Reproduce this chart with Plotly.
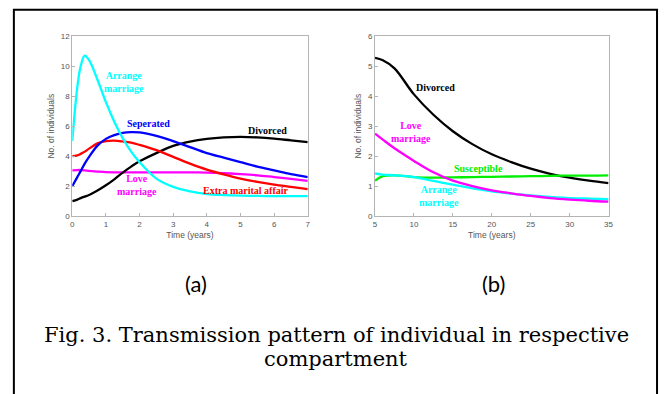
import plotly.graph_objects as go

# ---------- data: panel (a) ----------
t_a = [0, 0.15, 0.25, 0.37, 0.5, 0.75, 1, 1.25, 1.5, 1.75, 2, 2.5, 3, 3.5, 4, 4.5, 5, 5.5, 6, 6.5, 7]
arrange_a = [5.0, 8.6, 10.0, 10.7, 10.4, 9.1, 7.6, 6.3, 5.2, 4.3, 3.6, 2.5, 1.95, 1.65, 1.47, 1.4, 1.36, 1.34, 1.33, 1.33, 1.33]
seperated_a = [2.0, 2.6, 3.0, 3.5, 3.95, 4.7, 5.15, 5.4, 5.55, 5.6, 5.58, 5.35, 5.0, 4.6, 4.2, 3.9, 3.6, 3.3, 3.05, 2.8, 2.6]
extra_a = [4.0, 4.05, 4.15, 4.3, 4.5, 4.85, 5.0, 5.03, 4.98, 4.9, 4.75, 4.4, 3.95, 3.5, 3.1, 2.78, 2.5, 2.28, 2.1, 1.95, 1.8]
love_a = [3.05, 3.07, 3.07, 3.05, 3.02, 2.97, 2.93, 2.92, 2.92, 2.92, 2.92, 2.92, 2.92, 2.92, 2.9, 2.86, 2.8, 2.72, 2.6, 2.48, 2.35]
divorced_a = [1.0, 1.1, 1.2, 1.3, 1.4, 1.7, 2.05, 2.45, 2.9, 3.3, 3.65, 4.2, 4.68, 4.97, 5.15, 5.25, 5.28, 5.25, 5.17, 5.05, 4.93]

# ---------- data: panel (b) ----------
t_b = [5, 6, 7.5, 10, 12.5, 15, 17.5, 20, 22.5, 25, 27.5, 30, 32.5, 35]
divorced_b = [5.28, 5.2, 4.93, 4.06, 3.38, 2.83, 2.4, 2.06, 1.8, 1.58, 1.41, 1.28, 1.18, 1.1]
love_b = [2.75, 2.55, 2.26, 1.84, 1.46, 1.18, 1.0, 0.86, 0.76, 0.67, 0.6, 0.55, 0.51, 0.48]
arrange_b = [1.42, 1.38, 1.36, 1.3, 1.17, 1.05, 0.92, 0.82, 0.75, 0.69, 0.64, 0.6, 0.58, 0.56]
suscept_b = [1.18, 1.33, 1.36, 1.3, 1.28, 1.29, 1.3, 1.31, 1.32, 1.33, 1.34, 1.35, 1.35, 1.36]

xticks_a = [0, 1, 2, 3, 4, 5, 6, 7]
yticks_a = [0, 2, 4, 6, 8, 10, 12]
xticks_b = [5, 10, 15, 20, 25, 30, 35]
yticks_b = [0, 1, 2, 3, 4, 5, 6]

CYAN, BLUE, RED, MAG, BLACK, GREEN = "#00ffff", "#0000ff", "#ff0000", "#ff00ff", "#000000", "#00ee00"

fig = go.Figure()

def add(x, y, color, xa, ya):
    fig.add_trace(go.Scatter(x=x, y=y, mode="lines", line=dict(color=color, width=2.3, shape="spline", smoothing=1.0),
                             xaxis=xa, yaxis=ya, showlegend=False, hoverinfo="skip"))

add(t_a, love_a, MAG, "x", "y")
add(t_a, divorced_a, BLACK, "x", "y")
add(t_a, extra_a, RED, "x", "y")
add(t_a, seperated_a, BLUE, "x", "y")
add(t_a, arrange_a, CYAN, "x", "y")

add(t_b, divorced_b, BLACK, "x2", "y2")
add(t_b, suscept_b, GREEN, "x2", "y2")
add(t_b, arrange_b, CYAN, "x2", "y2")
add(t_b, love_b, MAG, "x2", "y2")

W, H = 665, 394
def px(x): return x / W
def py(y): return 1 - y / H

axis_common = dict(showline=True, mirror=True, linecolor="#b4b4b4", linewidth=1, ticks="inside", ticklen=3,
                   tickcolor="#b4b4b4", showgrid=False, zeroline=False,
                   tickfont=dict(family="Liberation Sans", size=8, color="#555555"))
title_font = dict(family="Liberation Sans", size=8.5, color="#555555")

fig.update_layout(
    width=W, height=H, margin=dict(l=0, r=0, t=0, b=0),
    paper_bgcolor="white", plot_bgcolor="white",
    xaxis=dict(domain=[px(71), px(309)], range=[0, 7], tickvals=xticks_a, anchor="y",
               title=dict(text="Time (years)", font=title_font, standoff=4), **axis_common),
    yaxis=dict(domain=[py(217), py(33)], range=[0, 12], tickvals=yticks_a, anchor="x",
               title=dict(text="No. of individuals", font=title_font, standoff=4), **axis_common),
    xaxis2=dict(domain=[px(377), px(613)], range=[5, 35], tickvals=xticks_b, anchor="y2",
                title=dict(text="Time (years)", font=title_font, standoff=4), **axis_common),
    yaxis2=dict(domain=[py(217), py(33)], range=[0, 6], tickvals=yticks_b, anchor="x2",
                title=dict(text="No. of individuals", font=title_font, standoff=4), **axis_common),
)

lab_font = "Liberation Serif"
def lab(text, x, y, color, xa, ya):
    fig.add_annotation(text="<b>" + text + "</b>", x=x, y=y, xref=xa, yref=ya, showarrow=False,
                       xanchor="center", yanchor="middle",
                       font=dict(family=lab_font, size=10, color=color))

lab("Arrange<br>marriage", 1.54, 8.96, CYAN, "x", "y")
lab("Seperated", 2.27, 6.17, BLUE, "x", "y")
lab("Divorced", 5.8, 5.7, BLACK, "x", "y")
lab("Love<br>marriage", 1.93, 2.1, MAG, "x", "y")
lab("Extra marital affair", 5.15, 1.72, RED, "x", "y")

lab("Divorced", 12.75, 4.28, BLACK, "x2", "y2")
lab("Love<br>marriage", 9.66, 2.79, MAG, "x2", "y2")
lab("Susceptible", 18.26, 1.57, GREEN, "x2", "y2")
lab("Arrange<br>marriage", 13.18, 0.67, CYAN, "x2", "y2")

sub_font = dict(family="Lato", size=22, color="black")
cap_font = dict(family="DejaVu Serif", size=21, color="black")

def paper_text(text, x, y, font):
    fig.add_annotation(text=text, x=px(x), y=py(y), xref="paper", yref="paper", showarrow=False,
                       xanchor="center", yanchor="middle", font=font)

paper_text("(a)", 196, 286, sub_font)
paper_text("(b)", 497, 286, sub_font)
paper_text("Fig. 3. Transmission pattern of individual in respective", 338, 339, cap_font)
paper_text("compartment", 338, 363, cap_font)

fig.add_shape(type="rect", xref="paper", yref="paper", x0=px(12), x1=px(662), y0=-0.05, y1=py(6),
              line=dict(color="black", width=2))

fig.write_html("out.html", config={"displayModeBar": False},
               post_script="document.body.style.margin='0';document.body.style.overflow='hidden';")
